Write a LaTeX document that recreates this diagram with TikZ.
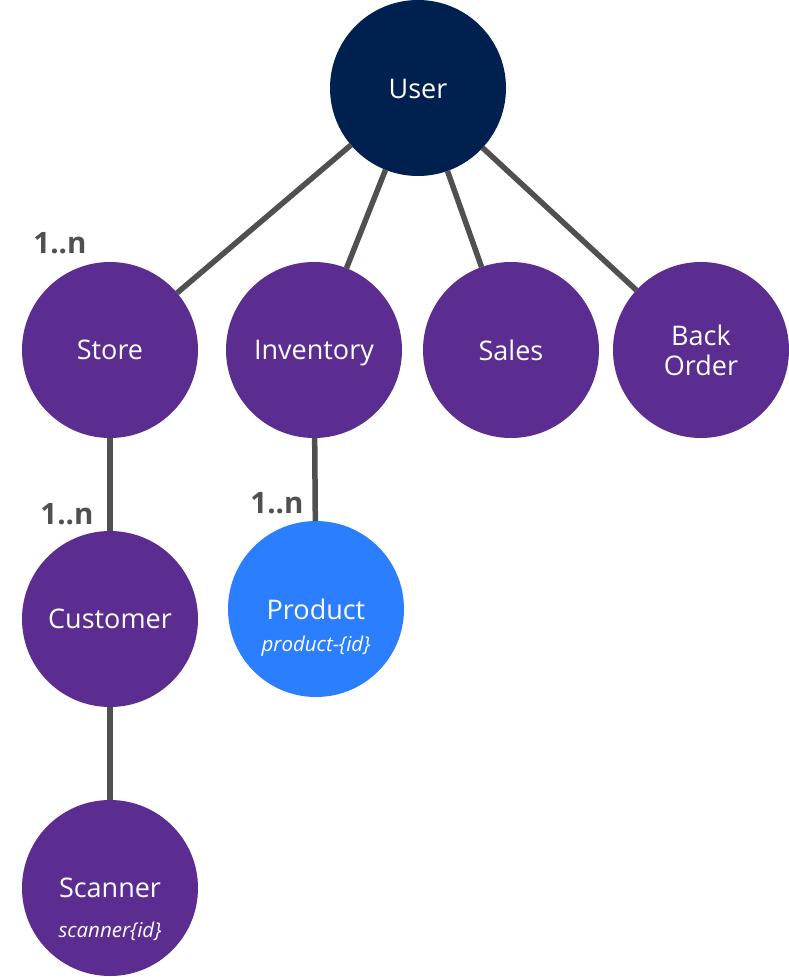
\documentclass[tikz,border=0pt]{standalone}
\usepackage{fontspec}
\setmainfont{Open Sans}
\definecolor{navy}{HTML}{00204F}
\definecolor{purp}{HTML}{5C2D91}
\definecolor{bluep}{HTML}{2B7FFF}
\definecolor{edgegray}{HTML}{505050}
\begin{document}
\begin{tikzpicture}[x=1pt,y=-1pt,
  ent/.style={circle,minimum size=176pt,inner sep=0pt,outer sep=0pt,text=white,
     font=\fontsize{27}{30}\selectfont,align=center},
  navyent/.style={ent,fill=navy},
  purpent/.style={ent,fill=purp},
  blueent/.style={ent,fill=bluep},
  lbl/.style={text=white,font=\fontsize{27}{30}\selectfont,inner sep=0pt},
  sub/.style={text=white,font=\fontsize{20.5}{24}\selectfont\itshape,inner sep=0pt},
  link/.style={draw=edgegray,line width=5.5pt},
  mult/.style={text=edgegray,font=\fontsize{29.5}{32}\selectfont\bfseries,inner sep=0pt}]
\useasboundingbox (0,0) rectangle (789,977);
\node[navyent] (user) at (418,88) {};
\node[purpent] (store) at (110,350) {};
\node[purpent] (inventory) at (314,350) {};
\node[purpent] (sales) at (511,350) {};
\node[purpent] (backorder) at (701,350) {};
\node[purpent] (customer) at (110,619) {};
\node[blueent] (product) at (316,609) {};
\node[purpent] (scanner) at (110,888) {};
\node[lbl] (userlbl) at (418,89) {User};
\node[lbl] (storelbl) at (110,350) {Store};
\node[lbl] (invlbl) at (314,353) {Inventory};
\node[lbl] (saleslbl) at (511,350) {Sales};
\node[lbl] (backlbl) at (701,335) {Back};
\node[lbl] (orderlbl) at (701,365) {Order};
\node[lbl] (custlbl) at (110,619) {Customer};
\node[lbl] (prodlbl) at (316,609) {Product};
\node[sub] (prodsub) at (316,646) {product-\{id\}};
\node[lbl] (scanlbl) at (110,888) {Scanner};
\node[sub] (scansub) at (110,931) {scanner\{id\}};
\draw[link] (user) -- (store);
\draw[link] (user) -- (inventory);
\draw[link] (user) -- (sales);
\draw[link] (user) -- (backorder);
\draw[link] (store) -- (customer);
\draw[link] (customer) -- (scanner);
\draw[link] (inventory) -- (product);
\node[mult] (m1) at (60,243) {1..n};
\node[mult] (m2) at (67,514) {1..n};
\node[mult] (m3) at (277,503) {1..n};
\end{tikzpicture}
\end{document}
